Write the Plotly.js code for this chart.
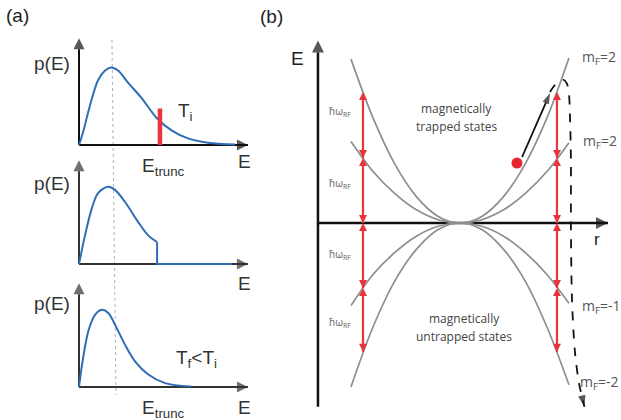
<!DOCTYPE html>
<html><head><meta charset="utf-8">
<script src="https://cdn.plot.ly/plotly-3.0.1.min.js"></script>
<style>html,body{margin:0;padding:0;background:#fff}</style>
</head><body><div id="chart" style="width:621px;height:420px"></div>
<script>
// ---------- Panel (a): energy distributions p(E) ----------
const eTop = [0, 0.25, 0.69, 1.19, 1.63, 2.0, 2.44, 3.06, 3.94, 4.88, 5.81, 6.81, 8.06, 9.75];
const pTop = [0, 1.6, 5.1, 8.3, 9.55, 9.95, 9.55, 8.0, 5.95, 3.4, 1.85, 0.85, 0.3, 0.05];
const eTrunc = [5.06, 5.06];
const pTruncBar = [0, 4.68];

const eMid = [0, 0.38, 0.81, 1.19, 1.81, 2.25, 2.88, 3.69, 4.31, 4.88];
const pMid = [0, 3.7, 7.2, 9.1, 9.9, 9.5, 7.95, 5.4, 3.7, 2.8];
const eMidTail = [4.88, 4.88, 9.56];
const pMidTail = [2.8, 0, 0];

const eBot = [0, 0.19, 0.58, 1.0, 1.42, 1.83, 2.25, 2.88, 3.5, 4.33, 5.38, 7.0];
const pBot = [0, 2.85, 7.15, 9.25, 9.9, 9.5, 8.0, 5.4, 3.3, 1.6, 0.5, 0.05];

const eMeanLine = [2.06, 2.31];      // dotted guide, top and bottom ends
const eAxisEnd = 10.56;
const pAxisEnd = [13.7, 13.3, 13.3];

// ---------- Panel (b): Zeeman levels vs r ----------
const rGrid = [-1, -0.8, -0.6, -0.4, -0.2, 0, 0.2, 0.4, 0.6, 0.8, 1];
const eMF2  = [1.49, 0.96, 0.54, 0.24, 0.06, 0, 0.06, 0.24, 0.54, 0.96, 1.5];
const eMF1  = [0.74, 0.47, 0.27, 0.12, 0.03, 0, 0.03, 0.12, 0.27, 0.47, 0.73];
const eMFm1 = [-0.75, -0.47, -0.27, -0.12, -0.03, 0, -0.03, -0.12, -0.27, -0.47, -0.73];
const eMFm2 = [-1.49, -0.95, -0.53, -0.24, -0.06, 0, -0.06, -0.24, -0.53, -0.95, -1.47];
const mFLabels = ['m<sub>F</sub>=2', 'm<sub>F</sub>=2', 'm<sub>F</sub>=-1', 'm<sub>F</sub>=-2'];
const mFLabelR = [1.10, 1.11, 1.10, 1.085];
const mFLabelE = [1.5, 0.74, -0.76, -1.45];
const rfR = [-0.89, 0.89];
const rfLevels = [1.19, 0.59, 0, -0.59, -1.17];
const rfLabelR = -1.10;
const rfLabelE = [1.01, 0.36, -0.29, -0.90];
const atomR = [0.523], atomE = [0.545];
const kickR = [0.57, 0.826], kickE = [0.6, 1.18];
const escR = [0.826, 0.872, 0.917, 0.954, 0.982, 1.0, 1.009, 1.018, 1.018, 1.028, 1.055, 1.092, 1.125, 1.142];
const escE = [1.19, 1.255, 1.29, 1.30, 1.264, 1.173, 0.98, 0.573, 0, -0.70, -1.173, -1.455, -1.60, -1.67];
const rAxis = [-1.303, 1.358];
const eAxis = [-1.67, 1.66];

const BLUE = '#2f6db5', RED = '#e8343c', GREY = '#8e8e8e';
const FA = 'Liberation Sans, Arial, sans-serif';
const FB = 'Open Sans, Liberation Sans, sans-serif';

const traces = [];
function line(x, y, xa, ya, color, width, o) {
  o = o || {};
  const t = {x, y, xaxis: xa, yaxis: ya, mode: o.head ? 'lines+markers' : 'lines', hoverinfo: 'skip',
    line: {color, width, shape: o.shape || 'linear', smoothing: 0.9, dash: o.dash || 'solid'}};
  if (o.head) {
    t.marker = {symbol: o.head, size: x.map((_, i) => (i === x.length - 1 ? o.hs : 0)),
      color, line: {width: 0}, angleref: o.angleref || 'up'};
  }
  traces.push(t);
}
// panel (a) axes (drawn first so the curves sit on top)
['y', 'y2', 'y3'].forEach((ya, i) => {
  const c = i === 0 ? '#111' : '#333';
  line([0, 0], [0, pAxisEnd[i]], 'x', ya, c, 2, {head: 'arrow-up', hs: 11});
  line([0, eAxisEnd], [0, 0], 'x', ya, c, 2, {head: 'arrow-right', hs: 11});
});
// panel (b) axes
line([rAxis[0], rAxis[0]], eAxis, 'x2', 'y4', '#111', 2.5, {head: 'arrow-up', hs: 12});
line(rAxis, [0, 0], 'x2', 'y4', '#111', 2.5, {head: 'arrow-right', hs: 12});

line(eTop, pTop, 'x', 'y', BLUE, 2, {shape: 'spline'});
line(eTrunc, pTruncBar, 'x', 'y', RED, 4.5);
line(eMid, pMid, 'x', 'y2', BLUE, 2, {shape: 'spline'});
line(eMidTail, pMidTail, 'x', 'y2', BLUE, 2);
line(eBot, pBot, 'x', 'y3', BLUE, 2, {shape: 'spline'});

[eMF2, eMF1, eMFm1, eMFm2].forEach(e => line(rGrid, e, 'x2', 'y4', GREY, 1.7, {shape: 'spline'}));
// RF transitions: double-headed red arrows
rfR.forEach(r => {
  for (let i = 0; i < rfLevels.length - 1; i++) {
    traces.push({x: [r, r], y: [rfLevels[i + 1], rfLevels[i]], xaxis: 'x2', yaxis: 'y4',
      mode: 'lines+markers', hoverinfo: 'skip', line: {color: RED, width: 2.2},
      marker: {symbol: ['arrow-down', 'arrow-up'], size: 8, color: RED, line: {width: 0}}});
  }
});
line(escR, escE, 'x2', 'y4', '#111', 1.8, {shape: 'spline', dash: 'dash', head: 'arrow', hs: 12, angleref: 'previous'});
line(kickR, kickE, 'x2', 'y4', '#111', 1.8, {head: 'arrow', hs: 11, angleref: 'previous'});
traces.push({x: atomR, y: atomE, xaxis: 'x2', yaxis: 'y4', mode: 'markers', hoverinfo: 'skip',
  marker: {color: '#e8242e', size: 11, line: {width: 0}}});

const ann = [];
function label(x, y, text, size, color, font, xa, ya, xref, yref) {
  ann.push({x, y, xref: xref || 'paper', yref: yref || 'paper', text, showarrow: false,
    xanchor: xa || 'center', yanchor: ya || 'middle',
    font: {size, color, family: font || FA}});
}
const TC = '#333';
label(17 / 621, 1 - 16 / 420, '(a)', 19, '#222');
label(271 / 621, 1 - 17 / 420, '(b)', 19, '#222');
[63, 183, 303].forEach(py => label(72 / 621, 1 - py / 420, 'p(E)', 19, TC, FA, 'right'));
[162, 283, 407].forEach(py => label(245 / 621, 1 - py / 420, 'E', 19, TC));
label(140 / 621, 1 - 167 / 420, 'E<sub>trunc</sub>', 19, TC, FA, 'left');
label(140 / 621, 1 - 409 / 420, 'E<sub>trunc</sub>', 19, TC, FA, 'left');
label(176 / 621, 1 - 112 / 420, 'T<sub>i</sub>', 19, TC, FA, 'left');
label(174 / 621, 1 - 359 / 420, 'T<sub>f</sub>&lt;T<sub>i</sub>', 19, TC, FA, 'left');
label(297 / 621, 1 - 59 / 420, 'E', 19, '#222');
label(597 / 621, 1 - 239 / 420, 'r', 17, '#222');
mFLabels.forEach((t, i) => label(mFLabelR[i], mFLabelE[i], t, 14, '#555', FB, 'left', 'middle', 'x2', 'y4'));
rfLabelE.forEach(e => label(rfLabelR, e, 'ħω<sub>RF</sub>', 10, '#666', FB, 'center', 'middle', 'x2', 'y4'));
label(-0.03, 1.045, 'magnetically', 12, '#444', FB, 'center', 'middle', 'x2', 'y4');
label(-0.03, 0.873, 'trapped states', 12, '#444', FB, 'center', 'middle', 'x2', 'y4');
label(0.037, -0.864, 'magnetically', 12, '#444', FB, 'center', 'middle', 'x2', 'y4');
label(0.037, -1.036, 'untrapped states', 12, '#444', FB, 'center', 'middle', 'x2', 'y4');

const hid = {visible: false, fixedrange: true};
const layout = {
  width: 621, height: 420, margin: {l: 0, r: 0, t: 0, b: 0},
  paper_bgcolor: '#fff', plot_bgcolor: 'rgba(0,0,0,0)', showlegend: false,
  xaxis: Object.assign({domain: [63 / 621, 263 / 621], range: [-1, 11.5], anchor: 'y'}, hid),
  yaxis: Object.assign({domain: [1 - 152.8 / 420, 1 - 31.9 / 420], range: [-1, 14.5], anchor: 'x'}, hid),
  yaxis2: Object.assign({domain: [1 - 271.8 / 420, 1 - 150.9 / 420], range: [-1, 14.5], anchor: 'x'}, hid),
  yaxis3: Object.assign({domain: [1 - 394.8 / 420, 1 - 273.9 / 420], range: [-1, 14.5], anchor: 'x'}, hid),
  xaxis2: Object.assign({domain: [307.4 / 621, 618 / 621], range: [-1.4, 1.45], anchor: 'y4'}, hid),
  yaxis4: Object.assign({domain: [1 - 415.5 / 420, 1 - 30.5 / 420], range: [-1.75, 1.75], anchor: 'x2'}, hid),
  shapes: [{type: 'line', xref: 'x', yref: 'paper', x0: eMeanLine[0], x1: eMeanLine[1],
    y0: 1 - 40 / 420, y1: 1 - 395 / 420, line: {color: '#aab4c0', width: 1, dash: 'dot'}, layer: 'below'}],
  annotations: ann
};
Plotly.newPlot('chart', traces, layout, {displayModeBar: false});
</script>
</body></html>
